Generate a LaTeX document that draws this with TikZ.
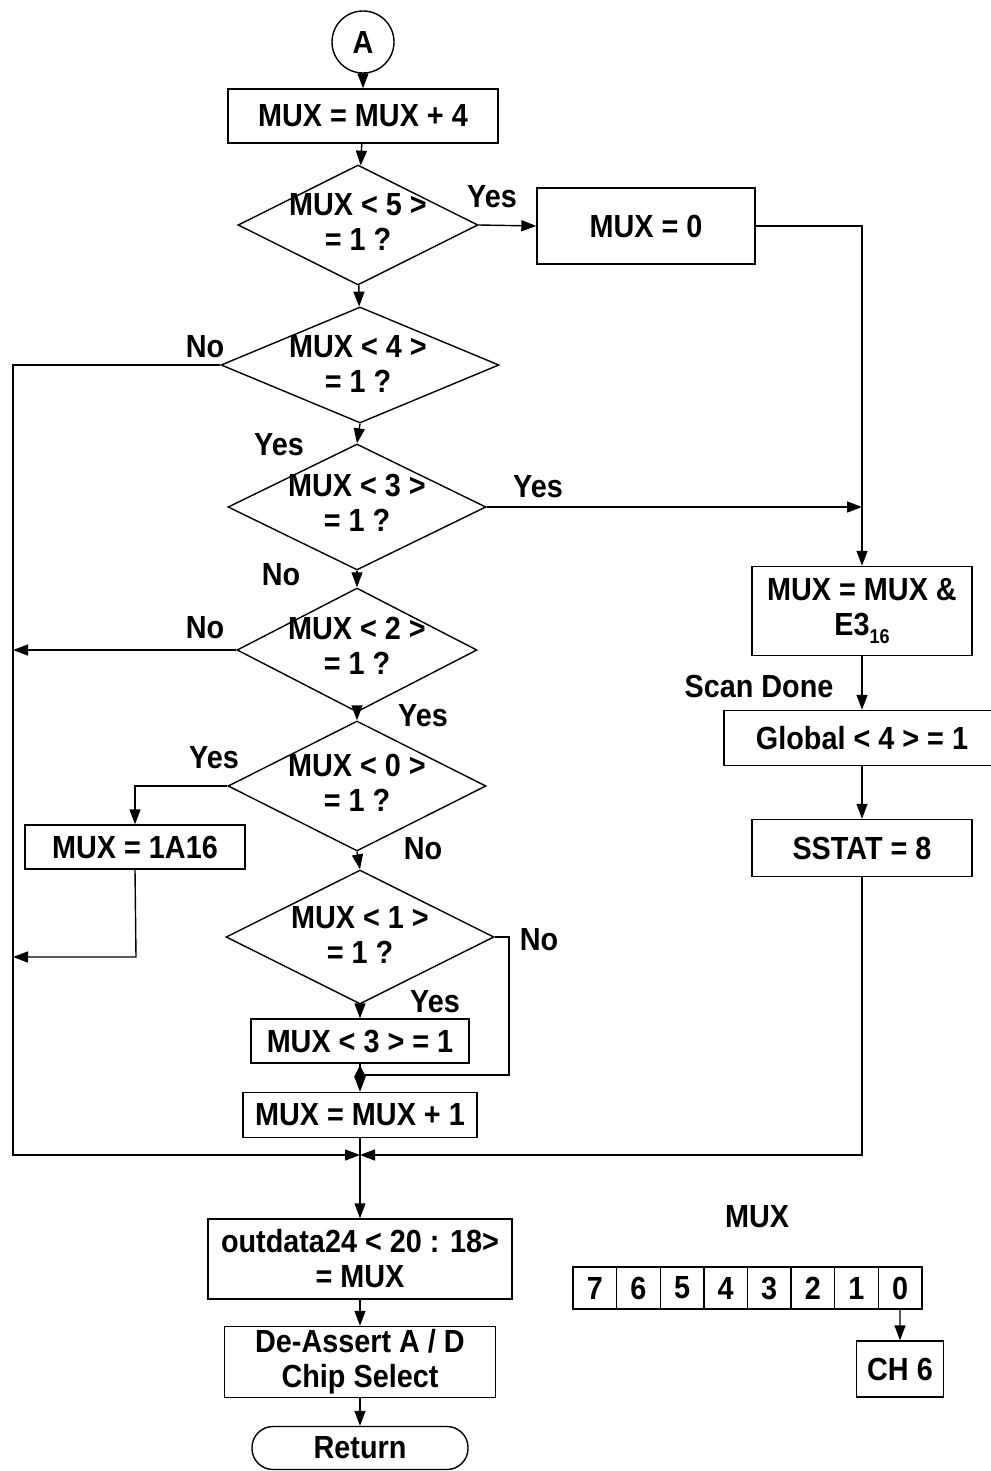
\documentclass[tikz,border=0pt]{standalone}
\usepackage{fontspec}
\setmainfont{Liberation Sans}[FakeStretch=0.9]
\usetikzlibrary{arrows.meta,shapes.geometric}
\tikzset{
  ln/.style={line width=1.4pt},
  arr/.style={ln,-{Triangle[length=15pt,width=11pt]}},
  fnt/.style={font=\bfseries\fontsize{32}{35}\selectfont},
  box/.style={draw,ln,inner sep=0pt,align=center,fnt},
  dia/.style={draw,diamond,ln,inner sep=0pt},
  txt/.style={inner sep=0pt,align=center,fnt},
}
\begin{document}
\begin{tikzpicture}[x=1pt,y=-1pt]
\useasboundingbox (0,0) rectangle (990,1471);
% main column
\node[draw,circle,ln,minimum size=62pt,inner sep=0pt,fnt] (A) at (363,42) {A};
\node[box,minimum width=270pt,minimum height=54pt] (b1) at (363,116) {MUX = MUX + 4};
\node[dia,minimum width=240pt,minimum height=120pt] (d5) at (358,225) {};
\node[txt] (d5t) at (358,222) {MUX < 5 >\\= 1 ?};
\node[box,minimum width=218pt,minimum height=76pt] (b0) at (646,226) {MUX = 0};
\node[dia,minimum width=278pt,minimum height=116pt] (d4) at (360,365) {};
\node[txt] (d4t) at (358,364) {MUX < 4 >\\= 1 ?};
\node[dia,minimum width=258pt,minimum height=126pt] (d3) at (357,507) {};
\node[txt] (d3t) at (357,503) {MUX < 3 >\\= 1 ?};
\node[dia,minimum width=240pt,minimum height=124pt] (d2) at (357,650) {};
\node[txt] (d2t) at (357,646) {MUX < 2 >\\= 1 ?};
\node[dia,minimum width=258pt,minimum height=130pt] (d0) at (357,786) {};
\node[txt] (d0t) at (357,783) {MUX < 0 >\\= 1 ?};
\node[dia,minimum width=268pt,minimum height=134pt] (d1) at (360,937) {};
\node[txt] (d1t) at (360,935) {MUX < 1 >\\= 1 ?};
\node[box,minimum width=218pt,minimum height=44pt] (b3) at (360,1041) {MUX < 3 > = 1};
\node[box,minimum width=234pt,minimum height=45pt] (bp1) at (360,1115) {MUX = MUX + 1};
\node[box,minimum width=304pt,minimum height=80pt] (out) at (360,1259) {outdata24 < 20 : 18>\\= MUX};
\node[box,minimum width=271pt,minimum height=71pt] (dea) at (360,1362) {De-Assert A / D\\Chip Select};
\node[box,rounded corners=21pt,minimum width=216pt,minimum height=43pt] (ret) at (360,1448) {Return};
\node[box,minimum width=220pt,minimum height=44pt] (b1a) at (135,847) {MUX = 1A16};
% right column
\node[box,minimum width=220pt,minimum height=89pt] (bE3) at (862,611) {MUX = MUX \&\\E3\raisebox{-8pt}{\fontsize{20}{20}\selectfont 16}};
\node[box,minimum width=268pt,minimum height=55pt] (bG) at (858,738) {\hspace*{8pt}Global < 4 > = 1};
\node[box,minimum width=220pt,minimum height=57pt] (bS) at (862,848) {SSTAT = 8};
% bit register
\node[txt] (muxl) at (757,1217) {MUX};
\foreach \d [count=\i from 0] in {7,6,5,4,3,2,1,0}
  \node[box,minimum width=43.6pt,minimum height=42pt] (c\d) at ({594.8+43.6*\i},1288) {\d};
\node[box,minimum width=87pt,minimum height=56pt] (ch6) at (900,1369) {CH 6};
% labels
\node[txt] (l1) at (492,197) {Yes};
\node[txt] (l2) at (205,347) {No};
\node[txt] (l3) at (279,445) {Yes};
\node[txt] (l4) at (538,487) {Yes};
\node[txt] (l5) at (281,575) {No};
\node[txt] (l6) at (205,628) {No};
\node[txt] (l7) at (423,716) {Yes};
\node[txt] (l8) at (214,758) {Yes};
\node[txt] (l9) at (423,849) {No};
\node[txt] (l10) at (539,940) {No};
\node[txt] (l11) at (435,1002) {Yes};
\node[txt] (l12) at (759,686) {Scan Done};
% coordinates
\coordinate (rt) at (862,226);
\coordinate (m3) at (862,507);
\coordinate (lt) at (13,365);
\coordinate (lb) at (13,1155);
\coordinate (j) at (360,1155);
\coordinate (rb) at (862,1155);
\coordinate (n1) at (509,937);
\coordinate (n2) at (509,1075);
\coordinate (jm) at (360,1075);
\coordinate (la) at (13,650);
\coordinate (lc) at (13,957);
\coordinate (ac) at (136,957);
% connectors
\draw[arr] (A) -- (b1);
\draw[arr] (b1) -- (d5);
\draw[arr] (d5) -- (d4);
\draw[arr] (d5.east) -- (b0.west);
\draw[arr] (b0.east) -- (rt) -- (bE3.north);
\draw[arr] (d3.east) -- (m3);
\draw[arr] (d4.south) -- (d3.north);
\draw[arr] (d3.south) -- (d2.north);
\draw[arr] (d2.south) -- (d0.north);
\draw[arr] (d0.south) -- (d1.north);
\draw[arr] (d1.south) -- (b3.north);
\draw[arr] (d4.west) -- (lt) -- (lb) -- (j);
\draw[arr] (d2.west) -- (la);
\draw[arr] (d0.west) -| (b1a.north);
\draw[arr] (b1a.south) -- (ac) -- (lc);
\draw[ln] (d1.east) -- (n1) -- (n2) -- (jm);
\draw[arr] (b3.south) -- (bp1.north);
\fill (354,1077) -- (360,1065) -- (366,1077) -- cycle;
\draw[arr] (bp1.south) -- (out.north);
\draw[arr] (bS.south) -- (rb) -- (j);
\draw[arr] (bE3.south) -- (bE3.south |- bG.north);
\draw[arr] (bS.north |- bG.south) -- (bS.north);
\draw[arr] (out.south) -- (dea.north);
\draw[arr] (dea.south) -- (ret.north);
\draw[arr] (c0.south) -- (ch6.north);
\end{tikzpicture}
\end{document}
